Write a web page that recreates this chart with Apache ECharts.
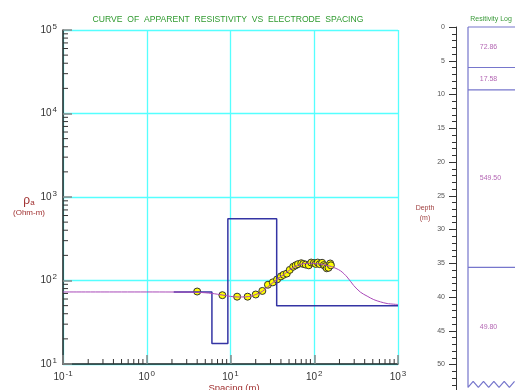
<!DOCTYPE html>
<html>
<head>
<meta charset="utf-8">
<script src="https://cdn.jsdelivr.net/npm/echarts@6/dist/echarts.min.js"></script>
<style>
  html, body { margin: 0; padding: 0; background: #fff; }
  #chart { width: 515px; height: 390px; }
</style>
</head>
<body>
<div id="chart"></div>
<script>
// field sounding: spacing (m) / apparent resistivity (Ohm-m)
const fieldSpacing = [4, 8, 12, 16, 20, 24, 28, 32, 36, 40, 43, 47, 51, 56, 60, 64, 70, 74, 79, 86, 92, 99, 104, 110, 116, 124, 130, 135, 141, 148, 155, 158];
const fieldRho = [73.8, 66.7, 64, 64, 68, 75, 89, 95, 103, 112, 117, 121, 134, 146, 152, 157, 161, 158, 155, 152, 164, 162, 158, 164, 157, 163, 153, 148, 140, 142, 160, 152];

// computed model curve
const modelSpacing = [0.1, 0.5, 1, 2, 3, 4, 5, 6, 7, 8, 10, 12, 15, 18, 20, 24, 28, 32, 36, 40, 45, 50, 56, 63, 70, 80, 90, 100, 120, 140, 160, 205, 247, 296, 356, 428, 514, 617, 742, 1000];
const modelRho = [72.9, 72.9, 72.9, 72.8, 72.6, 72.2, 71.3, 70, 68.5, 67, 64.5, 63.5, 63.5, 65.5, 68, 74, 84, 94, 103, 112, 121, 132, 143, 151, 157, 160, 161, 160, 157, 152, 147, 131, 110, 87, 72.5, 65, 59, 55.5, 53, 51.6];

// layered model
const layerRes = [72.86, 17.58, 549.50, 49.80];
const layerBottoms = [6.0, 9.3, 35.6];
const stepStart = 2.1;
const stepEnd = 1000;
const logBottom = 53.4;

// depth axis range
const depthMax = 55;

const chart = echarts.init(document.getElementById('chart'));

let stepData = [[stepStart, layerRes[0]]];
layerBottoms.forEach((d, i) => {
  stepData.push([d, layerRes[i]]);
  stepData.push([d, layerRes[i + 1]]);
});
stepData.push([stepEnd, layerRes[layerRes.length - 1]]);

// minor tick positions 2..9 per decade
let xMinor = [];
[0.1, 1, 10, 100].forEach(b => { for (let k = 2; k < 10; k++) xMinor.push(b * k); });
let yMinor = [];
[10, 100, 1000, 10000].forEach(b => { for (let k = 2; k < 10; k++) yMinor.push(b * k); });

// log box outline: left edge + break zigzag
let edgeData = [[0, 0], [0, logBottom]];
for (let i = 1; i < 10; i++) {
  edgeData.push([i * 0.11, i % 2 ? logBottom - 0.9 : logBottom]);
}

const tops = [0].concat(layerBottoms);
const bottoms = layerBottoms.concat([logBottom]);
const labelData = layerRes.map((r, i) => [0.25, (tops[i] + bottoms[i]) / 2, r]);

const expLabel = v => '{a|10}{b|' + Math.round(Math.log10(v)) + '}';
const expRich = {
  a: { fontSize: 10, color: '#333', fontFamily: 'Liberation Sans' },
  b: { fontSize: 8, color: '#333', fontFamily: 'Liberation Sans', padding: [0, 0, 7, 1] }
};

const option = {
  animation: false,
  title: [
    {
      text: 'CURVE  OF  APPARENT  RESISTIVITY  VS  ELECTRODE  SPACING',
      left: 223, top: 10, textAlign: 'center',
      textStyle: { fontSize: 8.6, fontWeight: 'normal', color: '#2f9a2f', fontFamily: 'Liberation Sans' }
    },
    {
      text: '{r|ρ}{s|a}\n{u|(Ohm-m)}',
      left: 24, top: 189, textAlign: 'center',
      textStyle: {
        fontWeight: 'normal',
        rich: {
          r: { fontSize: 12, fontWeight: 'normal', color: '#a03030', fontFamily: 'Liberation Sans' },
          s: { fontSize: 8, fontWeight: 'normal', color: '#a03030', fontFamily: 'Liberation Sans', padding: [5, 0, 0, 0] },
          u: { fontSize: 8, fontWeight: 'normal', color: '#a03030', fontFamily: 'Liberation Sans', lineHeight: 12 }
        }
      }
    },
    {
      text: 'Spacing (m)',
      left: 229, top: 378, textAlign: 'center',
      textStyle: { fontSize: 9.5, fontWeight: 'normal', color: '#a03030', fontFamily: 'Liberation Sans' }
    },
    {
      text: 'Resitivity Log',
      left: 486, top: 11, textAlign: 'center',
      textStyle: { fontSize: 7, fontWeight: 'normal', color: '#3a9a3a', fontFamily: 'Liberation Sans' }
    },
    {
      text: 'Depth\n(m)',
      left: 420, top: 198, textAlign: 'center',
      textStyle: { fontSize: 7, fontWeight: 'normal', color: '#a04040', fontFamily: 'Liberation Sans', lineHeight: 10, align: 'center' }
    }
  ],
  grid: [
    { left: 63, top: 30, width: 335, height: 334, outerBoundsMode: 'none' },
    { left: 468, top: 27, width: 47, height: depthMax * 6.75, outerBoundsMode: 'none' }
  ],
  xAxis: [
    {
      type: 'log', logBase: 10, min: 0.1, max: 1000, gridIndex: 0,
      axisLine: { lineStyle: { color: '#222', width: 1.5 } },
      axisTick: { inside: true, length: 9, lineStyle: { color: '#888', width: 1.5 } },
      axisLabel: { formatter: expLabel, rich: expRich, margin: 6 },
      splitLine: { show: true, lineStyle: { color: '#5ff', width: 1.3 } }
    },
    {
      type: 'value', min: 0, max: 1, gridIndex: 1, show: false
    }
  ],
  yAxis: [
    {
      type: 'log', logBase: 10, min: 10, max: 100000, gridIndex: 0,
      axisLine: { lineStyle: { color: '#222', width: 1.5 } },
      axisTick: { inside: true, length: 9, lineStyle: { color: '#888', width: 1.5 } },
      axisLabel: { formatter: expLabel, rich: expRich, margin: 6 },
      splitLine: { show: true, lineStyle: { color: '#5ff', width: 1.3 } }
    },
    {
      type: 'value', min: 0, max: depthMax, interval: 5, inverse: true, gridIndex: 1,
      position: 'left', offset: 12,
      axisLine: { show: true, onZero: false, lineStyle: { color: '#333' } },
      axisTick: { show: true, length: 7, lineStyle: { color: '#333' } },
      minorTick: { show: true, splitNumber: 5, length: 4, lineStyle: { color: '#333' } },
      axisLabel: { fontSize: 7, color: '#555', margin: 11, fontFamily: 'Liberation Sans' },
      splitLine: { show: false }
    }
  ],
  series: [
    {
      type: 'custom', xAxisIndex: 0, yAxisIndex: 0, clip: false, silent: true,
      data: xMinor.map(v => [v, 10]),
      renderItem: (params, api) => {
        const p = api.coord([api.value(0), 10]);
        return { type: 'line', shape: { x1: p[0], y1: p[1], x2: p[0], y2: p[1] - 5 }, style: { stroke: '#333', lineWidth: 1 } };
      }
    },
    {
      type: 'custom', xAxisIndex: 0, yAxisIndex: 0, clip: false, silent: true,
      data: yMinor.map(v => [0.1, v]),
      renderItem: (params, api) => {
        const p = api.coord([0.1, api.value(1)]);
        return { type: 'line', shape: { x1: p[0], y1: p[1], x2: p[0] + 5, y2: p[1] }, style: { stroke: '#333', lineWidth: 1 } };
      }
    },
    {
      type: 'line', xAxisIndex: 0, yAxisIndex: 0, data: stepData, symbol: 'none',
      lineStyle: { color: '#3434a4', width: 1.5 }
    },
    {
      type: 'line', xAxisIndex: 0, yAxisIndex: 0, smooth: 0.3, symbol: 'none',
      data: modelSpacing.map((s, i) => [s, modelRho[i]]),
      lineStyle: { color: '#a848b8', width: 1 }
    },
    {
      type: 'scatter', xAxisIndex: 0, yAxisIndex: 0, symbolSize: 7,
      data: fieldSpacing.map((s, i) => [s, fieldRho[i]]),
      itemStyle: { color: '#ffff00', borderColor: '#333', borderWidth: 1, opacity: 1 }
    },
    // resistivity log panel
    ...tops.map(d => ({
      type: 'line', xAxisIndex: 1, yAxisIndex: 1, symbol: 'none', clip: false,
      data: [[0, d], [1, d]],
      lineStyle: { color: '#7676cc', width: 1.2 }
    })),
    {
      type: 'line', xAxisIndex: 1, yAxisIndex: 1, symbol: 'none', clip: false,
      data: edgeData,
      lineStyle: { color: '#7676cc', width: 1.2 }
    },
    {
      type: 'scatter', xAxisIndex: 1, yAxisIndex: 1, symbolSize: 0,
      data: labelData,
      label: {
        show: true, position: 'right', distance: 0,
        formatter: p => p.value[2].toFixed(2),
        fontSize: 7, color: '#a040a0', fontFamily: 'Liberation Sans'
      }
    }
  ]
};

chart.setOption(option);
</script>
</body>
</html>
